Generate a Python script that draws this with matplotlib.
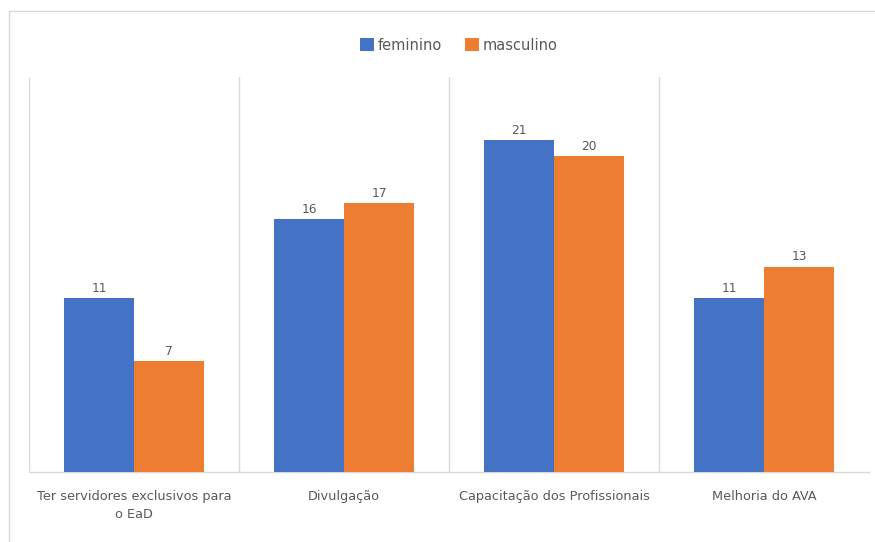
import numpy as np
import matplotlib.pyplot as plt
from matplotlib.patches import Rectangle

plt.rcParams['font.family'] = ['DejaVu Sans']

categorias = ['Ter servidores exclusivos para\no EaD', 'Divulgação',
              'Capacitação dos Profissionais', 'Melhoria do AVA']
feminino = [11, 16, 21, 11]
masculino = [7, 17, 20, 13]

azul = '#4472C4'
laranja = '#ED7D31'
cinza_txt = '#595959'
cinza_linha = '#D9D9D9'

fig = plt.figure(figsize=(8.75, 5.42), dpi=100)
# moldura do gráfico (cortada à direita e embaixo)
fig.patches.append(Rectangle((9 / 875, -0.1), 1.0, (542 - 11) / 542 + 0.1,
                             transform=fig.transFigure, fill=False,
                             edgecolor=cinza_linha, linewidth=1.0))

ax = fig.add_axes([29 / 875, 70 / 542, 840 / 875, 395 / 542])
x = np.arange(len(categorias))
w = 1 / 3
b1 = ax.bar(x - w / 2, feminino, w, color=azul, label='feminino', zorder=3)
b2 = ax.bar(x + w / 2, masculino, w, color=laranja, label='masculino', zorder=3)

for barras in (b1, b2):
    for r in barras:
        ax.annotate(f'{int(r.get_height())}', (r.get_x() + r.get_width() / 2, r.get_height()),
                    xytext=(0, 2.5), textcoords='offset points', ha='center', va='bottom',
                    fontsize=8.8, color=cinza_txt)

# linhas verticais entre categorias
for xv in np.arange(len(categorias)) - 0.5:
    ax.axvline(xv, color=cinza_linha, linewidth=1.0, zorder=1)

ax.set_xlim(-0.5, len(categorias) - 0.5)
ax.set_ylim(0, 25)
ax.set_yticks([])
ax.set_xticks(x)
ax.set_xticklabels(categorias, fontsize=9.3, color=cinza_txt, linespacing=1.5)
ax.tick_params(axis='x', length=0, pad=13)
for s in ['top', 'right', 'left']:
    ax.spines[s].set_visible(False)
ax.spines['bottom'].set_color(cinza_linha)
ax.spines['bottom'].set_linewidth(1.0)

leg = fig.legend(loc='center', bbox_to_anchor=(459 / 875, 1 - 45 / 542), ncol=2, frameon=False,
                 fontsize=10.5, handlelength=0.95, handleheight=0.95, handletextpad=0.25,
                 columnspacing=1.6)
for t in leg.get_texts():
    t.set_color(cinza_txt)

fig.savefig('out.png', dpi=100)
